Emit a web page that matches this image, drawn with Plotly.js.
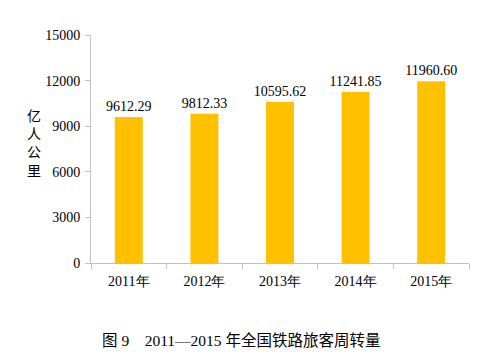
<!DOCTYPE html>
<html><head><meta charset="utf-8">
<script src="https://cdn.plot.ly/plotly-3.0.1.min.js"></script>
<style>body{margin:0;background:#fff}#c{width:489px;height:357px}</style>
</head><body><div id="c"></div>
<script>
const years = ["2011年","2012年","2013年","2014年","2015年"];
const values = [9612.29, 9812.33, 10595.62, 11241.85, 11960.60];
const labels = ["9612.29","9812.33","10595.62","11241.85","11960.60"];
const yTicks = [0,3000,6000,9000,12000,15000];
const yTickText = ["0","3000","6000","9000","12000","15000"];
const yTitle = "亿人公里";
const caption = "图 9　2011—2015 年全国铁路旅客周转量";

const serif = "Liberation Serif, Times New Roman, serif";
const trace = {
  type: "bar", x: years, y: values, text: labels,
  textposition: "outside", cliponaxis: false, constraintext: "none",
  textfont: {family: serif, size: 14, color: "#000"},
  marker: {color: "#FFC000"}, width: 0.37, hoverinfo: "none"
};
const layout = {
  width: 489, height: 357,
  margin: {l: 91, r: 20, t: 35, b: 94},
  paper_bgcolor: "#fff", plot_bgcolor: "#fff",
  showlegend: false,
  xaxis: {
    showline: true, linecolor: "#bfbfbf", linewidth: 1,
    ticks: "outside", ticklen: 5, tickcolor: "#bfbfbf",
    tickson: "boundaries", ticklabelstandoff: 5,
    tickfont: {family: serif, size: 14, color: "#000"},
    fixedrange: true
  },
  yaxis: {
    range: [0, 15000], tickvals: yTicks, ticktext: yTickText,
    showline: true, linecolor: "#bfbfbf", linewidth: 1,
    ticks: "outside", ticklen: 5, tickcolor: "#bfbfbf",
    showgrid: false, zeroline: false,
    tickfont: {family: serif, size: 14, color: "#000"},
    ticklabelstandoff: 2,
    fixedrange: true
  },
  annotations: [
    {text: yTitle.split("").join("<br>"), xref: "paper", yref: "paper",
     x: -0.15, y: 0.53, xanchor: "center", yanchor: "middle", showarrow: false,
     font: {family: "Noto Sans CJK SC", size: 14, color: "#000"}},
    {text: caption, xref: "paper", yref: "paper",
     x: 0.025, y: -0.34, xanchor: "left", yanchor: "middle", showarrow: false,
     font: {family: "Liberation Serif, Noto Sans CJK SC", size: 15.5, color: "#000"}}
  ]
};
Plotly.newPlot("c", [trace], layout, {displayModeBar: false, staticPlot: true});
</script></body></html>
